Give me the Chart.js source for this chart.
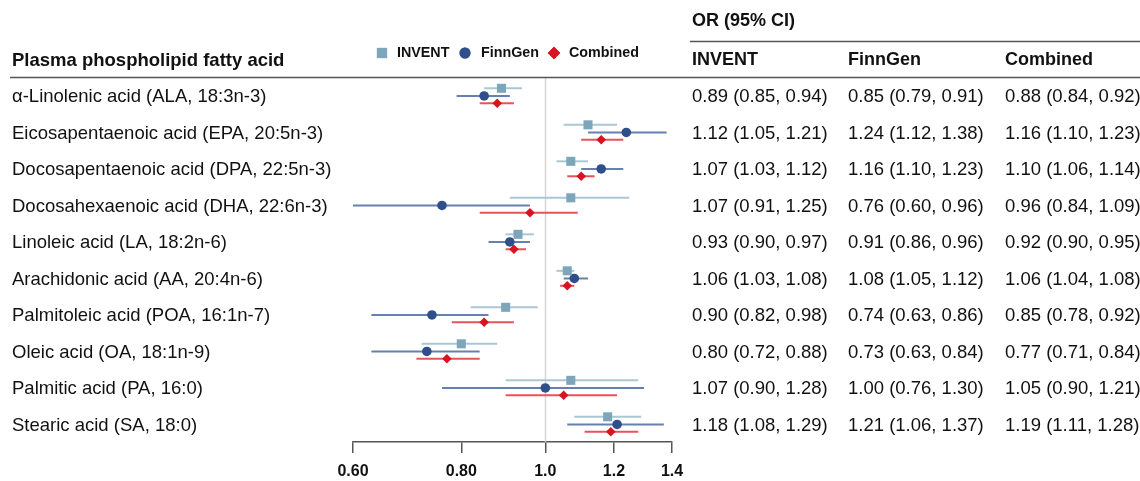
<!DOCTYPE html>
<html>
<head>
<meta charset="utf-8">
<title>Plasma phospholipid fatty acids forest plot</title>
<script src="https://cdn.jsdelivr.net/npm/chart.js@4/dist/chart.umd.min.js"></script>
<style>
  html, body { margin: 0; padding: 0; background: #fff; }
  #wrap { width: 1140px; height: 481px; }
</style>
</head>
<body>
<div id="wrap"><canvas id="forest" width="1140" height="481"></canvas></div>
<script>
// categories
const acids = [
    'α-Linolenic acid (ALA, 18:3n-3)',
    'Eicosapentaenoic acid (EPA, 20:5n-3)',
    'Docosapentaenoic acid (DPA, 22:5n-3)',
    'Docosahexaenoic acid (DHA, 22:6n-3)',
    'Linoleic acid (LA, 18:2n-6)',
    'Arachidonic acid (AA, 20:4n-6)',
    'Palmitoleic acid (POA, 16:1n-7)',
    'Oleic acid (OA, 18:1n-9)',
    'Palmitic acid (PA, 16:0)',
    'Stearic acid (SA, 18:0)'
];

// INVENT
const inventOR = [0.89, 1.12, 1.07, 1.07, 0.93, 1.06, 0.90, 0.80, 1.07, 1.18];
const inventLo = [0.85, 1.05, 1.03, 0.91, 0.90, 1.03, 0.82, 0.72, 0.90, 1.08];
const inventHi = [0.94, 1.21, 1.12, 1.25, 0.97, 1.08, 0.98, 0.88, 1.28, 1.29];

// FinnGen
const finnOR = [0.85, 1.24, 1.16, 0.76, 0.91, 1.08, 0.74, 0.73, 1.00, 1.21];
const finnLo = [0.79, 1.12, 1.10, 0.60, 0.86, 1.05, 0.63, 0.63, 0.76, 1.06];
const finnHi = [0.91, 1.38, 1.23, 0.96, 0.96, 1.12, 0.86, 0.84, 1.30, 1.37];

// Combined
const combOR = [0.88, 1.16, 1.10, 0.96, 0.92, 1.06, 0.85, 0.77, 1.05, 1.19];
const combLo = [0.84, 1.10, 1.06, 0.84, 0.90, 1.04, 0.78, 0.71, 0.90, 1.11];
const combHi = [0.92, 1.23, 1.14, 1.09, 0.95, 1.08, 0.92, 0.84, 1.21, 1.28];

// x axis ticks
const xTicks = [0.6, 0.8, 1.0, 1.2, 1.4];
const xTickLabels = ['0.60', '0.80', '1.0', '1.2', '1.4'];

const FONT = '"Liberation Sans", Arial, Helvetica, sans-serif';

const series = [
    { name: 'INVENT',   or: inventOR, lo: inventLo, hi: inventHi, shift: -0.21,
      mark: '#7ea6ba', line: '#abc7d4', style: 'rect',    radius: 6.4 },
    { name: 'FinnGen',  or: finnOR,   lo: finnLo,   hi: finnHi,   shift: 0,
      mark: '#2e4f8a', line: '#6681ad', style: 'circle',  radius: 4.8 },
    { name: 'Combined', or: combOR,   lo: combLo,   hi: combHi,   shift: 0.2,
      mark: '#d7141f', line: '#e8525b', style: 'rectRot', radius: 4.8 }
];

function fmtCI(or, lo, hi) {
    return or.toFixed(2) + ' (' + lo.toFixed(2) + ', ' + hi.toFixed(2) + ')';
}

// 신뢰구간 막대 + 기준선
const errorBars = {
    id: 'errorBars',
    beforeDatasetsDraw(chart) {
        const { ctx, chartArea, scales: { x, y } } = chart;
        ctx.save();
        // OR = 1 기준선
        const x1 = Math.round(x.getPixelForValue(1.0)) + 0.5;
        ctx.strokeStyle = '#d5d5d5';
        ctx.lineWidth = 1.5;
        ctx.beginPath();
        ctx.moveTo(x1, chartArea.top);
        ctx.lineTo(x1, chartArea.bottom);
        ctx.stroke();

        ctx.lineWidth = 2;
        series.forEach(s => {
            ctx.strokeStyle = s.line;
            s.or.forEach((v, i) => {
                const py = y.getPixelForValue(i + s.shift);
                ctx.beginPath();
                ctx.moveTo(x.getPixelForValue(s.lo[i]), py);
                ctx.lineTo(x.getPixelForValue(s.hi[i]), py);
                ctx.stroke();
            });
        });
        ctx.restore();
    }
};

// 텍스트, 표, 범례
const tableText = {
    id: 'tableText',
    afterDraw(chart) {
        const { ctx, scales: { y } } = chart;
        ctx.save();
        ctx.fillStyle = '#111';
        ctx.textBaseline = 'middle';
        ctx.textAlign = 'left';

        // headers
        ctx.font = 'bold 18.5px ' + FONT;
        ctx.fillText('Plasma phospholipid fatty acid', 12, 61);
        ctx.font = 'bold 18px ' + FONT;
        ctx.fillText('OR (95% CI)', 692, 21);
        ctx.fillText('INVENT', 692, 60);
        ctx.fillText('FinnGen', 848, 60);
        ctx.fillText('Combined', 1005, 60);

        // rules
        ctx.strokeStyle = '#555';
        ctx.lineWidth = 1.5;
        ctx.beginPath();
        ctx.moveTo(690, 41.5);
        ctx.lineTo(1140, 41.5);
        ctx.moveTo(10, 77.5);
        ctx.lineTo(1140, 77.5);
        ctx.stroke();

        // row labels and OR values
        ctx.font = '18.5px ' + FONT;
        const cols = [692, 848, 1005];
        acids.forEach((name, i) => {
            const py = y.getPixelForValue(i) + 1;
            ctx.fillText(name, 12, py);
            series.forEach((s, k) => {
                ctx.fillText(fmtCI(s.or[i], s.lo[i], s.hi[i]), cols[k], py);
            });
        });

        // legend
        ctx.font = 'bold 14.3px ' + FONT;
        const legendPos = [
            { mx: 382, tx: 397, r: 7.2 },
            { mx: 465, tx: 481, r: 5.5 },
            { mx: 554, tx: 569, r: 6.2 }
        ];
        series.forEach((s, k) => {
            const ly = 53;
            ctx.fillStyle = s.mark;
            Chart.helpers.drawPoint(ctx, { pointStyle: s.style, radius: legendPos[k].r, borderWidth: 0 },
                legendPos[k].mx, ly);
            ctx.fill();
            ctx.fillStyle = '#111';
            ctx.fillText(s.name, legendPos[k].tx, ly);
        });
        ctx.restore();
    }
};

const datasets = series.map(s => ({
    label: s.name,
    data: s.or.map((v, i) => ({ x: v, y: i + s.shift })),
    pointStyle: s.style,
    pointRadius: s.radius,
    pointBackgroundColor: s.mark,
    pointBorderWidth: 0,
    showLine: false
}));

new Chart(document.getElementById('forest').getContext('2d'), {
    type: 'scatter',
    data: { datasets },
    options: {
        responsive: false,
        animation: false,
        events: [],
        clip: false,
        layout: { padding: { left: 353, right: 468, top: 77, bottom: 0 } },
        plugins: {
            legend: { display: false },
            tooltip: { enabled: false }
        },
        scales: {
            x: {
                type: 'logarithmic',
                min: 0.6,
                max: 1.4,
                afterBuildTicks(scale) {
                    scale.ticks = xTicks.map(v => ({ value: v }));
                },
                afterFit(scale) {
                    scale.paddingLeft = 0;
                    scale.paddingRight = 0;
                    scale.height = 39;
                },
                grid: {
                    display: true,
                    drawOnChartArea: false,
                    drawTicks: true,
                    tickLength: 11,
                    color: '#555',
                    lineWidth: 1.5
                },
                border: { display: true, color: '#555', width: 1.5 },
                ticks: {
                    autoSkip: false,
                    maxRotation: 0,
                    padding: 9,
                    color: '#111',
                    font: { family: FONT, size: 16, weight: 'bold' },
                    callback: (value, index) => xTickLabels[index]
                }
            },
            y: {
                type: 'linear',
                display: false,
                reverse: true,
                min: -0.52,
                max: 9.48
            }
        }
    },
    plugins: [errorBars, tableText]
});
</script>
</body>
</html>
